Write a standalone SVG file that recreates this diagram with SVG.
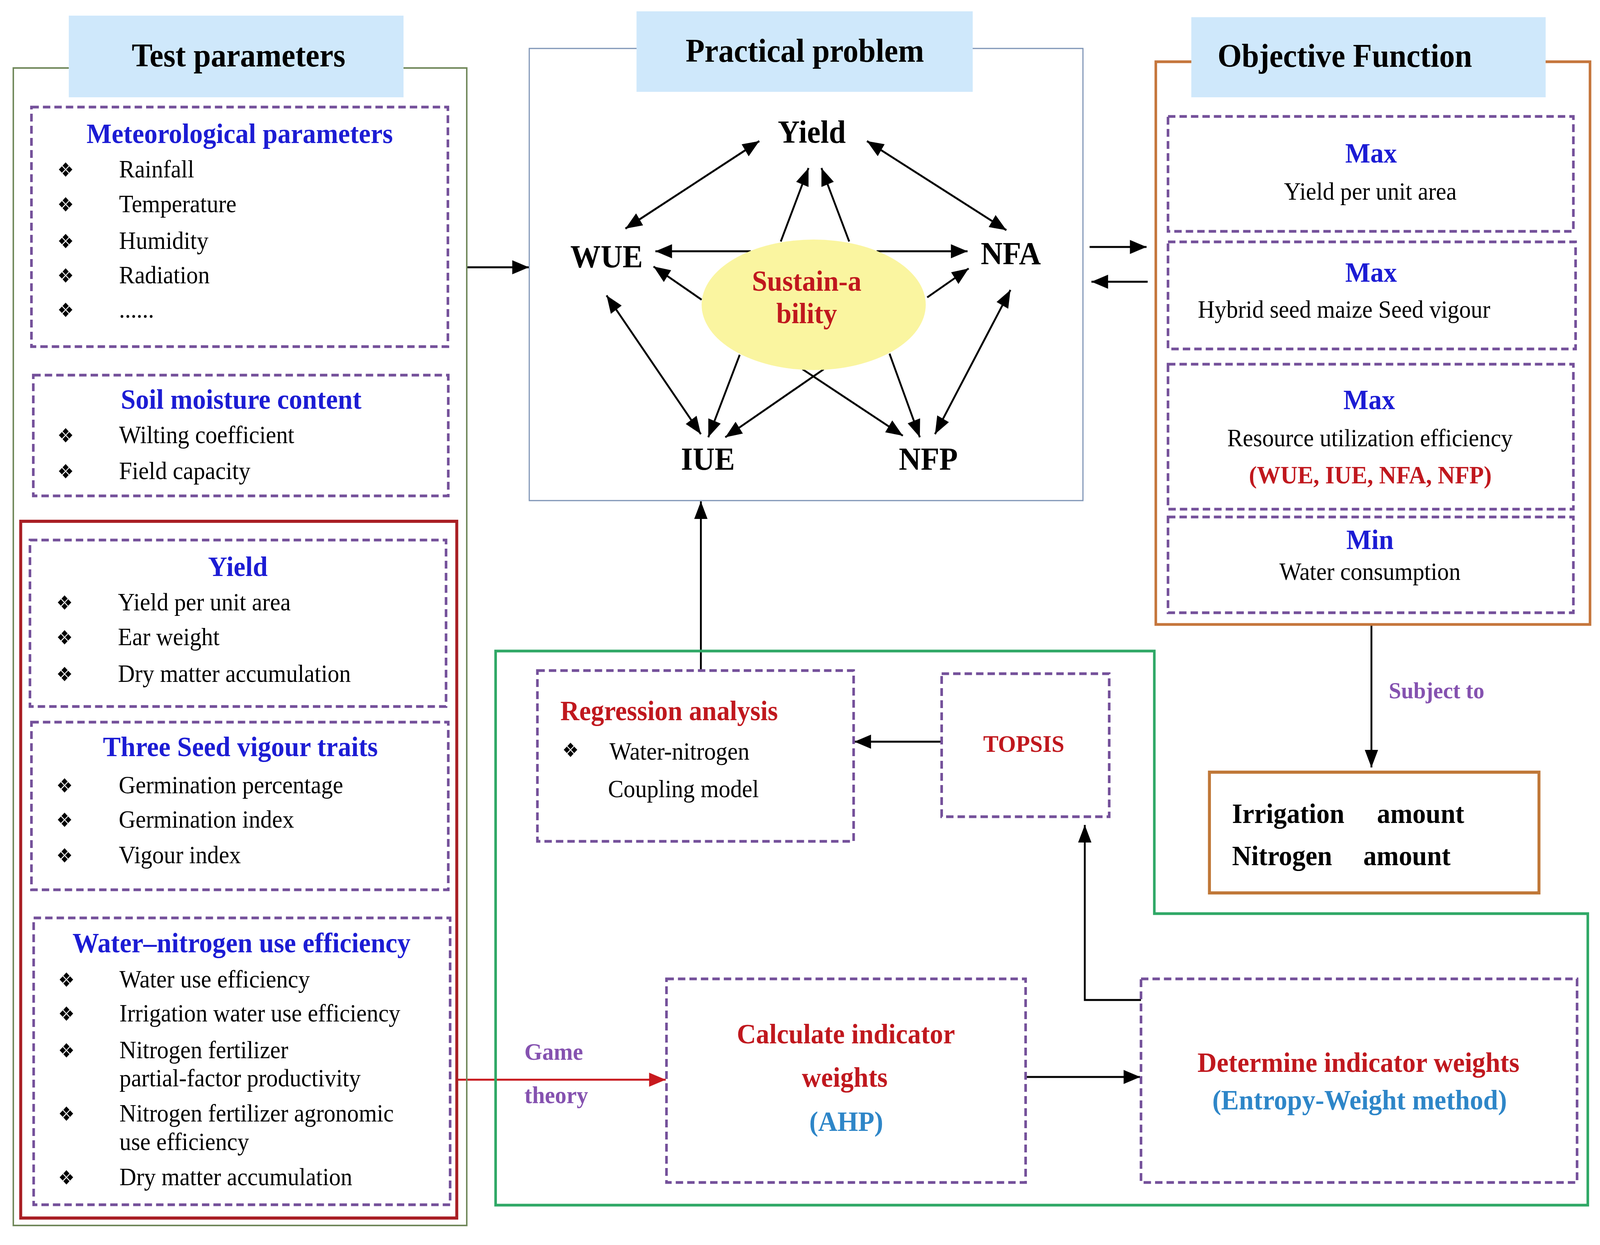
<svg xmlns="http://www.w3.org/2000/svg" width="4326" height="3186" viewBox="0 0 4326 3186" preserveAspectRatio="none">
<style>
svg{width:100vw;height:100vh}
text{font-family:"Liberation Serif","Times New Roman",serif}
.hdr{fill:#cfe8fb}
.ttl{font-size:84px;font-weight:bold;fill:#000;text-anchor:middle}
.dash{fill:none;stroke:#74509a;stroke-width:7;stroke-dasharray:20 11}
.bt{font-size:72px;font-weight:bold;fill:#1c1cd4;text-anchor:middle}
.it{font-size:63px;fill:#000}
.bu{font-family:"DejaVu Sans",sans-serif;font-size:50px;fill:#000}
.pl{font-size:82px;font-weight:bold;fill:#000;text-anchor:middle}
.red{fill:#c0181e;font-weight:bold}
.blu{fill:#2e86c8;font-weight:bold}
.pur{fill:#8552b0;font-weight:bold}
.ln{stroke:#000;stroke-width:5;fill:none}
.m{marker-end:url(#a)}
.d{marker-start:url(#a);marker-end:url(#a)}
</style>
<defs>
<marker id="a" viewBox="0 0 10 8" refX="10" refY="4" markerUnits="userSpaceOnUse" markerWidth="46" markerHeight="36" orient="auto-start-reverse"><path d="M0,0L10,4L0,8z" fill="#000"/></marker>
<marker id="ar" viewBox="0 0 10 8" refX="10" refY="4" markerUnits="userSpaceOnUse" markerWidth="46" markerHeight="36" orient="auto"><path d="M0,0L10,4L0,8z" fill="#c8191e"/></marker>
</defs>
<rect width="4326" height="3186" fill="#fff"/>

<g id="connectors">
<path class="ln m" d="M1262,684 L1430,684"/>
<path class="ln m" d="M2946,632 L3100,632"/>
<path class="ln m" d="M3103,721 L2951,721"/>
<path class="ln m" d="M1895,1716 L1895,1283"/>
<path class="ln m" d="M2546,1898 L2310,1898"/>
<path class="ln m" d="M3085,2559 L2933,2559 L2933,2111"/>
<path class="ln m" d="M2773,2756 L3083,2756"/>
<path d="M1235,2763 L1800,2763" stroke="#c8191e" stroke-width="5" fill="none" marker-end="url(#ar)"/>
<path class="ln m" d="M3708,1598 L3708,1964"/>
<path class="ln d" d="M2053,361 L1691,585"/>
<path class="ln d" d="M2344,361 L2721,589"/>
<path class="ln m" d="M2111,618 L2186,430"/>
<path class="ln m" d="M2296,618 L2221,430"/>
<path class="ln m" d="M2030,643 L1772,643"/>
<path class="ln m" d="M2370,643 L2616,643"/>
<path class="ln m" d="M1897,767 L1767,682"/>
<path class="ln m" d="M2507,761 L2619,687"/>
<path class="ln d" d="M1640,756 L1895,1111"/>
<path class="ln d" d="M2732,742 L2528,1111"/>
<path class="ln m" d="M2000,908 L1915,1119"/>
<path class="ln m" d="M2405,905 L2487,1119"/>
<path class="ln m" d="M2227,945 L1961,1119"/>
<path class="ln m" d="M2170,945 L2441,1115"/>
</g>

<g id="test-parameters">
<rect x="36" y="174" width="1226" height="2962" fill="none" stroke="#70885a" stroke-width="4"/>
<rect class="hdr" x="186" y="40" width="905" height="209"/>
<text class="ttl" x="645" y="170">Test parameters</text>
</g>

<g id="meteorological">
<rect class="dash" x="85" y="274" width="1126" height="613"/>
<text class="bt" x="648" y="366">Meteorological parameters</text>
<text class="bu" x="155" y="452">❖</text><text class="it" x="322" y="454">Rainfall</text>
<text class="bu" x="155" y="541">❖</text><text class="it" x="322" y="543">Temperature</text>
<text class="bu" x="155" y="635">❖</text><text class="it" x="322" y="637">Humidity</text>
<text class="bu" x="155" y="723">❖</text><text class="it" x="322" y="725">Radiation</text>
<text class="bu" x="155" y="811">❖</text><text class="it" x="322" y="813">......</text>
</g>

<g id="soil-moisture">
<rect class="dash" x="90" y="960" width="1122" height="309"/>
<text class="bt" x="652" y="1046">Soil moisture content</text>
<text class="bu" x="155" y="1132">❖</text><text class="it" x="322" y="1134">Wilting coefficient</text>
<text class="bu" x="155" y="1224">❖</text><text class="it" x="322" y="1226">Field capacity</text>
</g>

<g id="indicators">
<rect x="56" y="1334" width="1179" height="1783" fill="none" stroke="#a91f24" stroke-width="8"/>
</g>

<g id="yield">
<rect class="dash" x="81" y="1382" width="1125" height="426"/>
<text class="bt" x="643" y="1474">Yield</text>
<text class="bu" x="152" y="1560">❖</text><text class="it" x="319" y="1562">Yield per unit area</text>
<text class="bu" x="152" y="1649">❖</text><text class="it" x="319" y="1651">Ear weight</text>
<text class="bu" x="152" y="1743">❖</text><text class="it" x="319" y="1745">Dry matter accumulation</text>
</g>

<g id="seed-vigour">
<rect class="dash" x="85" y="1848" width="1127" height="429"/>
<text class="bt" x="650" y="1935">Three Seed vigour traits</text>
<text class="bu" x="152" y="2028">❖</text><text class="it" x="321" y="2030">Germination percentage</text>
<text class="bu" x="152" y="2116">❖</text><text class="it" x="321" y="2118">Germination index</text>
<text class="bu" x="152" y="2207">❖</text><text class="it" x="321" y="2209">Vigour index</text>
</g>

<g id="water-nitrogen">
<rect class="dash" x="91" y="2349" width="1126" height="734"/>
<text class="bt" x="653" y="2437">Water–nitrogen use efficiency</text>
<text class="bu" x="157" y="2525">❖</text><text class="it" x="323" y="2527">Water use efficiency</text>
<text class="bu" x="157" y="2612">❖</text><text class="it" x="323" y="2614">Irrigation water use efficiency</text>
<text class="bu" x="157" y="2706">❖</text><text class="it" x="323" y="2708">Nitrogen fertilizer</text>
<text class="it" x="323" y="2780">partial-factor productivity</text>
<text class="bu" x="157" y="2868">❖</text><text class="it" x="323" y="2870">Nitrogen fertilizer agronomic</text>
<text class="it" x="323" y="2943">use efficiency</text>
<text class="bu" x="157" y="3031">❖</text><text class="it" x="323" y="3033">Dry matter accumulation</text>
</g>

<g id="practical-problem">
<rect x="1431" y="124" width="1497" height="1157" fill="none" stroke="#7d93b5" stroke-width="3"/>
<rect class="hdr" x="1721" y="29" width="909" height="206"/>
<text class="ttl" x="2176" y="158">Practical problem</text>
</g>

<g id="p-yield"><text class="pl" x="2195" y="365">Yield</text></g>
<g id="p-wue"><text class="pl" x="1640" y="684">WUE</text></g>
<g id="p-nfa"><text class="pl" x="2733" y="676">NFA</text></g>
<g id="p-iue"><text class="pl" x="1914" y="1202">IUE</text></g>
<g id="p-nfp"><text class="pl" x="2510" y="1202">NFP</text></g>
<g id="sustainability">
<ellipse cx="2200" cy="780" rx="303" ry="167" fill="#faf5a0"/>
<text class="red" x="2181" y="744" font-size="74" text-anchor="middle">Sustain-a</text>
<text class="red" x="2181" y="827" font-size="74" text-anchor="middle">bility</text>
</g>

<g id="objective-function">
<rect x="3125" y="158" width="1174" height="1440" fill="none" stroke="#c5763c" stroke-width="7"/>
<rect class="hdr" x="3221" y="44" width="958" height="205"/>
<text class="ttl" x="3636" y="171" font-size="86">Objective Function</text>
</g>

<g id="obj-yield">
<rect class="dash" x="3158" y="298" width="1096" height="294"/>
<text class="bt" x="3707" y="416">Max</text>
<text class="it" x="3705" y="511" text-anchor="middle" font-size="64">Yield per unit area</text>
</g>
<g id="obj-vigour">
<rect class="dash" x="3158" y="619" width="1102" height="274"/>
<text class="bt" x="3707" y="721">Max</text>
<text class="it" x="3634" y="813" text-anchor="middle" font-size="64">Hybrid seed maize Seed vigour</text>
</g>
<g id="obj-resource">
<rect class="dash" x="3158" y="932" width="1096" height="371"/>
<text class="bt" x="3702" y="1047">Max</text>
<text class="it" x="3704" y="1142" text-anchor="middle" font-size="64">Resource utilization efficiency</text>
<text class="red" x="3705" y="1237" text-anchor="middle" font-size="64">(WUE, IUE, NFA, NFP)</text>
</g>
<g id="obj-water">
<rect class="dash" x="3158" y="1323" width="1096" height="245"/>
<text class="bt" x="3704" y="1405">Min</text>
<text class="it" x="3704" y="1484" text-anchor="middle" font-size="64">Water consumption</text>
</g>

<g id="subject-to-label"><text class="pur" x="3755" y="1787" font-size="60">Subject to</text></g>

<g id="constraints">
<rect x="3270" y="1976" width="891" height="309" fill="none" stroke="#c07838" stroke-width="8"/>
<text x="3331" y="2106" font-size="72" font-weight="bold">Irrigation</text>
<text x="3723" y="2106" font-size="72" font-weight="bold">amount</text>
<text x="3331" y="2214" font-size="72" font-weight="bold">Nitrogen</text>
<text x="3686" y="2214" font-size="72" font-weight="bold">amount</text>
</g>

<g id="evaluation">
<path d="M1340,1666 L3121,1666 L3121,2338 L4293,2338 L4293,3084 L1340,3084 Z" fill="none" stroke="#2fa866" stroke-width="7"/>
</g>

<g id="regression">
<rect class="dash" x="1453" y="1716" width="855" height="437"/>
<text class="red" x="1515" y="1843" font-size="71">Regression analysis</text>
<text class="bu" x="1520" y="1937">❖</text>
<text class="it" x="1648" y="1944" font-size="64">Water-nitrogen</text>
<text class="it" x="1644" y="2040" font-size="64">Coupling model</text>
</g>

<g id="topsis">
<rect class="dash" x="2546" y="1724" width="453" height="366"/>
<text class="red" x="2768" y="1924" font-size="62" text-anchor="middle">TOPSIS</text>
</g>

<g id="game-theory-label">
<text class="pur" x="1418" y="2712" font-size="62">Game</text>
<text class="pur" x="1418" y="2823" font-size="62">theory</text>
</g>

<g id="ahp">
<rect class="dash" x="1802" y="2505" width="971" height="521"/>
<text class="red" x="2287" y="2670" font-size="72" text-anchor="middle">Calculate indicator</text>
<text class="red" x="2284" y="2781" font-size="72" text-anchor="middle">weights</text>
<text class="blu" x="2288" y="2894" font-size="72" text-anchor="middle">(AHP)</text>
</g>

<g id="entropy">
<rect class="dash" x="3085" y="2505" width="1179" height="521"/>
<text class="red" x="3673" y="2743" font-size="72" text-anchor="middle">Determine indicator weights</text>
<text class="blu" x="3676" y="2839" font-size="72" text-anchor="middle">(Entropy-Weight method)</text>
</g>
</svg>
